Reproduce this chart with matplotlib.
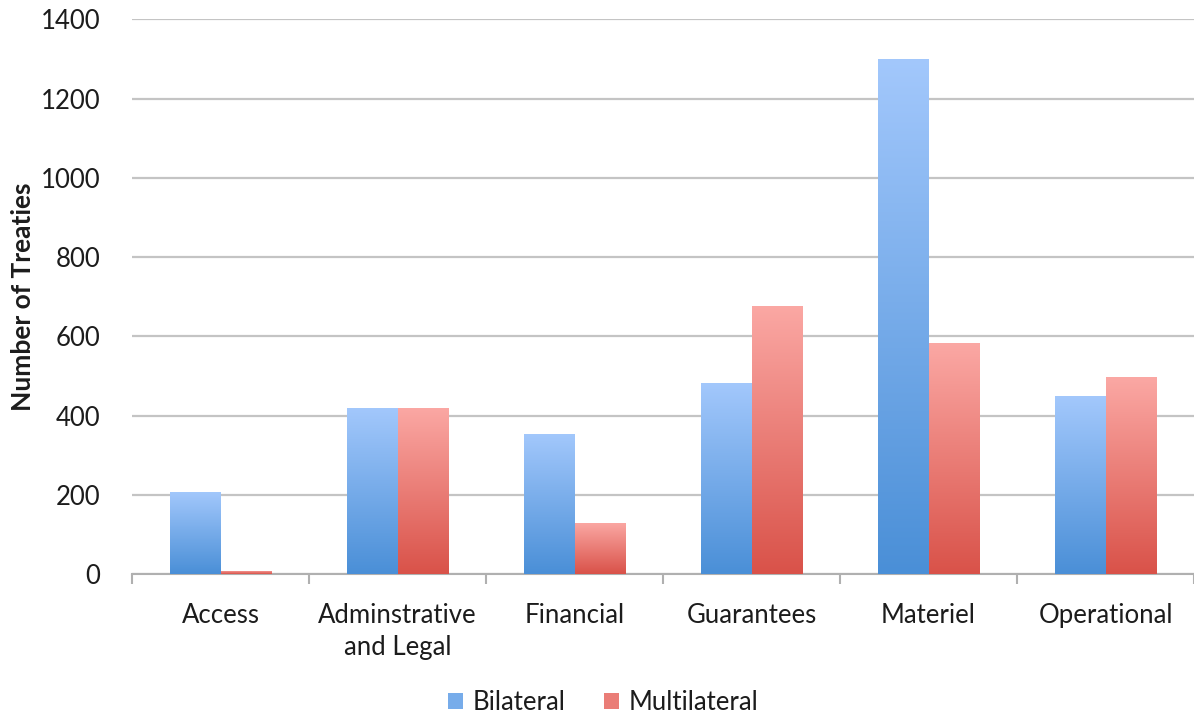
import numpy as np
import matplotlib
matplotlib.use("Agg")
import matplotlib.pyplot as plt
from matplotlib.colors import LinearSegmentedColormap
from matplotlib.patches import Rectangle

categories = ["Access", "Adminstrative\nand Legal", "Financial", "Guarantees", "Materiel", "Operational"]
bilateral = [207, 420, 354, 483, 1300, 449]
multilateral = [8, 420, 130, 677, 582, 497]

plt.rcParams['font.family'] = ['Lato', 'DejaVu Sans']

# gradient colour maps: dark at the bottom, light at the top
blue_cmap = LinearSegmentedColormap.from_list("blu", ["#4a8fd7", "#a3c8fc"])
red_cmap = LinearSegmentedColormap.from_list("red", ["#d95249", "#fba8a4"])

fig = plt.figure(figsize=(11.94, 7.15), dpi=100)
ax = fig.add_axes([0.1106, 0.197, 0.8894, 0.776])

x = np.arange(len(categories))
w = 0.285
grad = np.linspace(0, 1, 256).reshape(-1, 1)


def gradient_bars(xs, heights, cmap):
    for xi, h in zip(xs, heights):
        bar = ax.bar(xi, h, width=w, color="none", linewidth=0, zorder=3)[0]
        im = ax.imshow(grad, cmap=cmap, origin="lower", aspect="auto",
                       extent=(xi - w / 2, xi + w / 2, 0, h), zorder=3)
        im.set_clip_path(bar)


gradient_bars(x - w / 2, bilateral, blue_cmap)
gradient_bars(x + w / 2, multilateral, red_cmap)

ax.set_xlim(-0.5, len(categories) - 0.5)
ax.set_ylim(0, 1400)
ax.set_yticks(range(0, 1401, 200))
ax.yaxis.grid(True, color="#c4c4c4", linewidth=1.6, zorder=0)
ax.set_axisbelow(True)

for s in ["top", "right", "left"]:
    ax.spines[s].set_visible(False)
ax.spines["bottom"].set_color("#b0b0b0")
ax.spines["bottom"].set_linewidth(1.5)

txt = "#1c1c1c"

# category separators on the x axis
ax.set_xticks(np.arange(-0.5, len(categories), 1.0))
ax.set_xticklabels([])
ax.tick_params(axis="x", length=7, width=1.5, color="#b0b0b0", direction="out")
ax.set_xticks(x, minor=True)
ax.set_xticklabels(categories, minor=True, fontsize=18.5, color=txt, linespacing=1.35)
ax.tick_params(axis="x", which="minor", length=0, pad=21)
for lbl in ax.get_xticklabels(minor=True):
    lbl.set_verticalalignment("top")

ax.tick_params(axis="y", length=0, labelsize=18.5, labelcolor=txt, pad=23)
ax.set_ylabel("Number of Treaties", fontsize=19, fontweight="bold", color=txt)
ax.yaxis.set_label_coords(-0.091, 0.5)

# legend swatches
handles = []
for cmap in (blue_cmap, red_cmap):
    handles.append(Rectangle((0, 0), 1, 1, facecolor=cmap(0.5), edgecolor="none"))
leg = fig.legend(handles, ["Bilateral", "Multilateral"], loc="center", bbox_to_anchor=(0.505, 0.017),
                 ncol=2, frameon=False, fontsize=18.5, handlelength=0.6, handleheight=0.6,
                 handletextpad=0.35, columnspacing=1.5)
for t in leg.get_texts():
    t.set_color(txt)

fig.savefig("out.png", dpi=100)
